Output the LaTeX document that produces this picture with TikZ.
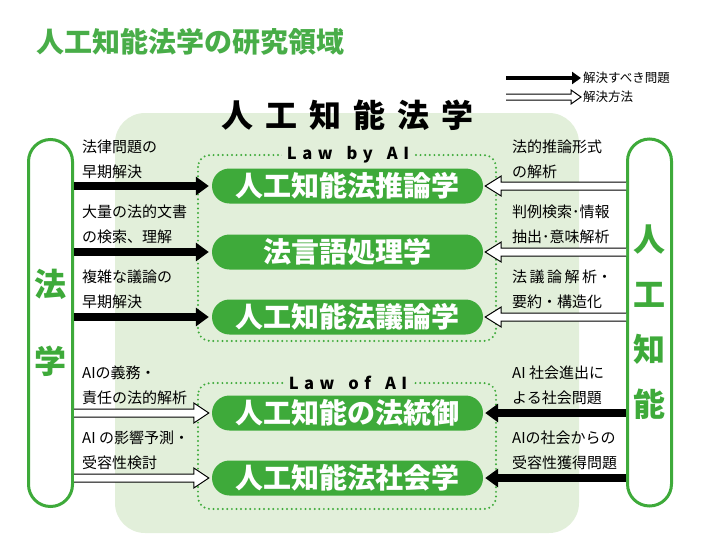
\documentclass[tikz,border=0pt]{standalone}
\usepackage{fontspec}
\setmainfont{Noto Sans CJK JP}
\usetikzlibrary{positioning, arrows.meta, calc}

\definecolor{hgreen}{RGB}{62,170,58}
\definecolor{tgreen}{RGB}{72,173,72}
\definecolor{bggreen}{RGB}{226,239,218}

\tikzset{
  field/.style={draw=hgreen, line width=3pt, rounded corners=22pt, minimum width=44pt,
    minimum height=367pt, text=hgreen, align=center, inner sep=0pt},
  study/.style={fill=hgreen, rounded corners=17.5pt, minimum width=271pt, minimum height=35pt,
    text=white, font=\bfseries\fontsize{28}{30}\selectfont, inner sep=0pt},
  need/.style={line width=8pt, -{Triangle[length=13pt,width=18pt]}},
  howto/.style={draw=black, fill=white, line width=1pt},
  note/.style={align=left, anchor=west, font=\fontsize{15}{25}\selectfont, inner sep=0pt},
  key/.style={anchor=west, font=\fontsize{12.5}{14}\selectfont, inner sep=0pt},
  area/.style={draw=hgreen, line width=2.2pt, line cap=round, dash pattern=on 0pt off 4.6pt,
    rounded corners=12pt},
  arealabel/.style={fill=bggreen, inner xsep=5pt, font=\bfseries\fontsize{16.5}{18}\selectfont},
}

% hollow arrow: from, to, half shaft, half head, head length
\newcommand{\howarrow}[5]{%
  \draw[howto] let \p1=(#1), \p2=(#2), \p3=($(\p2)!#5!(\p1)$) in
    (\x1,\y1-#3) -- (\x3,\y1-#3) -- (\x3,\y1-#4) -- (\p2)
    -- (\x3,\y1+#4) -- (\x3,\y1+#3) -- (\x1,\y1+#3);}
\newcommand{\ls}{\kern5.5pt}
\newcommand{\ws}{\kern14pt}

\begin{document}
\begin{tikzpicture}[x=1pt, y=-1pt, node distance=66pt, on grid]
\useasboundingbox (0,0) rectangle (712,555);
\fill[bggreen, rounded corners=30pt] (115,113) rectangle (579,533);

\node[anchor=west, text=tgreen, font=\bfseries\fontsize{28}{30}\selectfont] (title) at (33,42)
  {人工知能法学の研究領域};
\node[font=\bfseries\fontsize{32}{34}\selectfont] (main) at (347,115)
  {人\kern12pt工\kern12pt知\kern12pt能\kern12pt法\kern12pt学};

% legend
\coordinate (k1) at (506,78);
\coordinate (k2) at (581,78);
\draw[line width=4pt, -{Triangle[length=9pt,width=12pt]}] (k1) -- (k2);
\node[key] (k2t) at (583,78) {解決すべき問題};
\coordinate (k3) at (506,97);
\coordinate (k4) at (581,97);
\howarrow{k3}{k4}{3pt}{7pt}{10pt}
\node[key] (k4t) at (583,97) {解決方法};

% fields
\node[field, font=\bfseries\fontsize{32}{77}\selectfont] (hou) at (50.5,323) {法\\学};
\node[field, font=\bfseries\fontsize{32}{55}\selectfont] (ai) at (649.5,322.5) {人\\工\\知\\能};

% areas
\draw[area] (198,155) rectangle (496,341);
\draw[area] (198,383) rectangle (496,509);
\node[arealabel] (byai) at (348,155) {L\ls a\ls w\ws b\ls y\ws A\ls I};
\node[arealabel] (ofai) at (348,383) {L\ls a\ls w\ws o\ls f\ws A\ls I};

% studies
\node[study] (t1) at (347.5,186) {人工知能法推論学};
\node[study] (t2) [below=66pt of t1] {法言語処理学};
\node[study] (t3) [below=65pt of t2] {人工知能法議論学};
\node[study] (t4) [below=96pt of t3] {人工知能の法統御};
\node[study] (t5) [below=65pt of t4] {人工知能法社会学};

% arrows
\foreach \t in {t1,t2,t3}{
  \draw[need] (hou.east |- \t.west) -- ([xshift=-3pt]\t.west);
  \howarrow{ai.west |- \t.east}{[xshift=2pt]\t.east}{4pt}{10pt}{16pt}
}
\foreach \t in {t4,t5}{
  \howarrow{hou.east |- \t.west}{[xshift=-3pt]\t.west}{4pt}{10pt}{15pt}
  \draw[need] (ai.west |- \t.east) -- ([xshift=2pt]\t.east);
}

% notes
\node[note] (n1) at (82,159.5) {法律問題の\\早期解決};
\node[note] (n2) at (82,224.5) {大量の法的文書\\の検索、理解};
\node[note] (n3) at (82,289.5) {複雑な議論の\\早期解決};
\node[note] (n4) at (82,385.5) {AIの義務・\\責任の法的解析};
\node[note] (n5) at (82,450.5) {AI の影響予測・\\受容性検討};
\node[note] (m1) at (512,159.5) {法的推論形式\\の解析};
\node[note] (m2) at (512,224.5) {判例検索･情報\\抽出･意味解析};
\node[note] (m3) at (512,289.5) {法\,議\,論\,解\,析・\\要約・構造化};
\node[note] (m4) at (512,385.5) {AI 社会進出に\\よる社会問題};
\node[note] (m5) at (512,450.5) {AIの社会からの\\受容性獲得問題};
\end{tikzpicture}
\end{document}
